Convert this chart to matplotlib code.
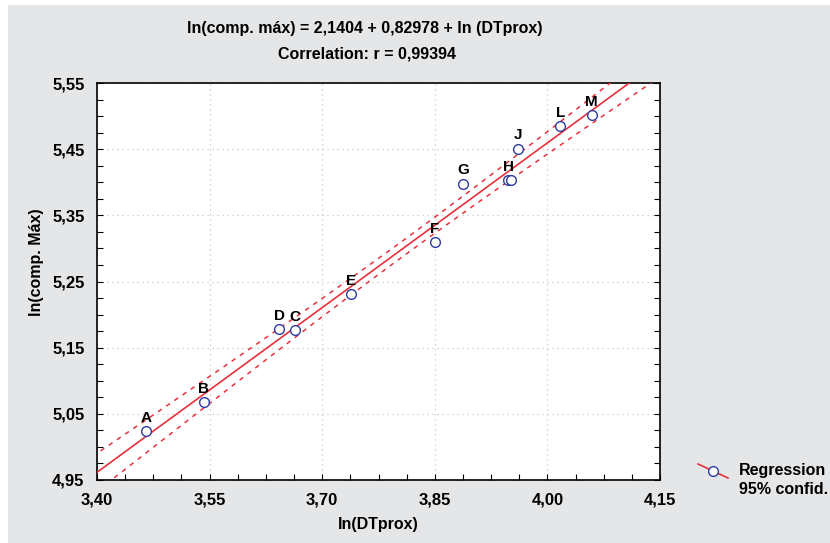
import matplotlib
matplotlib.use("Agg")
import matplotlib.pyplot as plt
import numpy as np
from matplotlib.patches import Rectangle
from matplotlib.lines import Line2D
from matplotlib.ticker import FixedLocator, FuncFormatter

plt.rcParams["font.family"] = ["Liberation Sans Narrow", "Liberation Sans", "DejaVu Sans"]
plt.rcParams["font.weight"] = "bold"

# point labels and coordinates (log scale values); the "I" point sits under "H"
labels = ["A", "B", "D", "C", "E", "F", "G", "H", "", "J", "L", "M"]
ln_dtprox = [3.465, 3.542, 3.643, 3.664, 3.738, 3.850, 3.888, 3.948, 3.951, 3.961, 4.017, 4.059]
ln_comp = [5.024, 5.068, 5.178, 5.176, 5.231, 5.309, 5.398, 5.403, 5.403, 5.451, 5.485, 5.501]

x_ticks = [3.40, 3.55, 3.70, 3.85, 4.00, 4.15]
y_ticks = [4.95, 5.05, 5.15, 5.25, 5.35, 5.45, 5.55]

intercept = 2.1404
slope = 0.82978
r_value = 0.99394
t_crit = 2.228  # t(0.975, df=10)

RED = "#e8303a"
BLUE = "#2e3a9e"
GRAY = "#e5e6e8"


def comma(v, decimals=2):
    return f"{v:.{decimals}f}".replace(".", ",")


W, H = 830, 543
fig = plt.figure(figsize=(W / 100, H / 100), dpi=100)
fig.patch.set_facecolor("white")
fig.add_artist(Rectangle((8 / W, 0), 1, 1 - 5 / H, transform=fig.transFigure,
                         facecolor=GRAY, edgecolor="none", zorder=0))

ax = fig.add_axes([97 / W, 1 - 480 / H, (660 - 97) / W, (480 - 83) / H])
ax.set_facecolor("white")

x = np.array(ln_dtprox)
y = np.array(ln_comp)

# regression line and 95% confidence band for the mean
xs = np.linspace(3.35, 4.2, 200)
fit = intercept + slope * xs
resid = y - (intercept + slope * x)
s = np.sqrt(np.sum(resid ** 2) / (len(x) - 2))
sxx = np.sum((x - x.mean()) ** 2)
half = t_crit * s * np.sqrt(1 / len(x) + (xs - x.mean()) ** 2 / sxx)

ax.plot(xs, fit, color=RED, lw=1.2, zorder=3)
ax.plot(xs, fit + half, color=RED, lw=1.1, ls=(0, (3, 3.5)), zorder=3)
ax.plot(xs, fit - half, color=RED, lw=1.1, ls=(0, (3, 3.5)), zorder=3)

ax.plot(x, y, ls="none", marker="o", ms=7, mfc="white", mec=BLUE, mew=1.0, zorder=4)
for lab, xi, yi in zip(labels, x, y):
    if lab:
        ax.annotate(lab, (xi, yi), xytext=(0, 4.5), textcoords="offset points",
                    ha="center", va="bottom", fontsize=11, fontweight="bold", zorder=5)

ax.set_xlim(x_ticks[0], x_ticks[-1])
ax.set_ylim(y_ticks[0], y_ticks[-1])
ax.xaxis.set_major_locator(FixedLocator(x_ticks))
ax.xaxis.set_minor_locator(FixedLocator(np.arange(x_ticks[0], x_ticks[-1] + 1e-9, 0.0375)))
ax.yaxis.set_major_locator(FixedLocator(y_ticks))
ax.yaxis.set_minor_locator(FixedLocator(np.arange(y_ticks[0], y_ticks[-1] + 1e-9, 0.025)))
ax.xaxis.set_major_formatter(FuncFormatter(lambda v, p: comma(v)))
ax.yaxis.set_major_formatter(FuncFormatter(lambda v, p: comma(v)))
ax.tick_params(which="both", direction="in", length=4, width=0.8,
               top=False, right=True, labelsize=12)
ax.tick_params(axis="y", pad=9)
ax.tick_params(axis="x", pad=9)
for t in ax.get_xticklabels() + ax.get_yticklabels():
    t.set_fontweight("bold")

ax.grid(True, which="major", color="#c8c8c8", ls=(0, (1, 3)), lw=0.9)
for sp in ax.spines.values():
    sp.set_linewidth(1.2)

fig.text(365 / W, 1 - 28 / H,
         f"ln(comp. máx) = {comma(intercept, 4)} + {comma(slope, 5)} + ln (DTprox)",
         ha="center", va="center", fontsize=11.5, fontweight="bold")
fig.text(367 / W, 1 - 54 / H, f"Correlation: r = {comma(r_value, 5)}",
         ha="center", va="center", fontsize=11.5, fontweight="bold")
fig.text(378 / W, 1 - 525 / H, "ln(DTprox)", ha="center", va="center",
         fontsize=11.5, fontweight="bold")
fig.text(36 / W, 1 - 262 / H, "ln(comp. Máx)", ha="center", va="center", rotation=90,
         fontsize=11.5, fontweight="bold")

# legend key drawn outside the axes
fig.add_artist(Line2D([698 / W, 728 / W], [1 - 464 / H, 1 - 478 / H], transform=fig.transFigure,
                      color=RED, lw=1.2))
fig.add_artist(Line2D([713 / W], [1 - 471 / H], transform=fig.transFigure, ls="none",
                      marker="o", ms=7, mfc="white", mec=BLUE, mew=1.0))
fig.text(739 / W, 1 - 471 / H, "Regression", ha="left", va="center", fontsize=11.5, fontweight="bold")
fig.text(739 / W, 1 - 490 / H, "95% confid.", ha="left", va="center", fontsize=11.5, fontweight="bold")

fig.savefig("out.png", dpi=100)
